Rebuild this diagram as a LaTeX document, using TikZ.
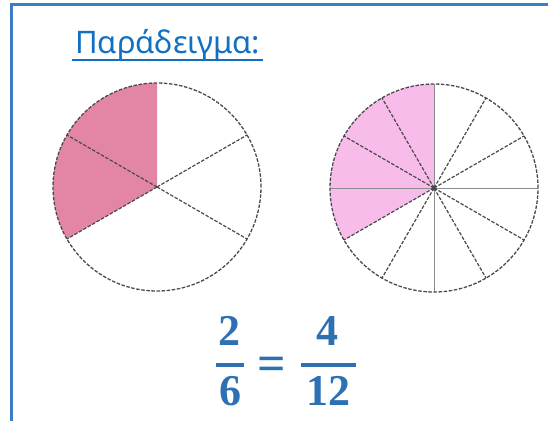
\documentclass[tikz,border=0pt]{standalone}
\usepackage{fontspec}
\setmainfont{Noto Sans}
\newfontfamily\fracfont{Liberation Serif}
\usetikzlibrary{calc}
\definecolor{framebl}{HTML}{3B7EC6}
\definecolor{titlebl}{HTML}{1270C2}
\definecolor{fracbl}{HTML}{2E71B3}
\definecolor{pinkA}{HTML}{E386A6}
\definecolor{pinkB}{HTML}{F8BCEA}
\definecolor{rimgray}{HTML}{4A4A4A}
\begin{document}
\begin{tikzpicture}[x=1pt,y=1pt,
  frame/.style={draw=framebl,line width=3pt},
  rim/.style={draw=rimgray,line width=1.3pt,dash pattern=on 3.5pt off 1.6pt},
  spoke/.style={draw=rimgray,line width=1.2pt,dash pattern=on 3.5pt off 1.6pt},
  axisline/.style={draw=black!45,line width=0.9pt},
  title/.style={font=\fontsize{31}{36}\selectfont,text=titlebl,inner sep=0pt,anchor=base west},
  digit/.style={font=\fracfont\bfseries\fontsize{44}{50}\selectfont,text=fracbl,inner sep=0pt,anchor=base},
  fracbar/.style={draw=fracbl,line width=4pt}]
\useasboundingbox (0,0) rectangle (548,-421);
\draw[frame] (11.5,-421)--(11.5,-4)--(548,-4);

\node[title] (head) at (75,-53) {Παράδειγμα:};
\draw[titlebl,line width=2.8pt] (72,-60)--(263,-60);

% left pie, six parts
\coordinate (lc) at (157,-187);
\fill[pinkA] (lc)--++(90:104) arc (90:210:104)--cycle;
\foreach \a in {30,150,210,330}
  \draw[spoke] (lc)--++(\a:104);
\draw[rim] (lc) circle (104);

% right pie, twelve parts
\coordinate (rc) at (434,-188);
\fill[pinkB] (rc)--++(90:104) arc (90:210:104)--cycle;
\foreach \a in {0,90,180,270}
  \draw[axisline] (rc)--++(\a:104);
\foreach \a in {30,60,120,150,210,240,300,330}
  \draw[spoke] (rc)--++(\a:104);
\draw[rim] (rc) circle (104);
\fill[rimgray] (rc) circle (2.5);

% 2/6 = 4/12
\node[digit] (numA) at (229,-345) {2};
\node[digit] (denA) at (230,-405) {6};
\node[digit] (numB) at (327,-345) {4};
\node[digit] (denB) at (328,-405) {12};
\node[digit,font=\fracfont\bfseries\fontsize{50}{56}\selectfont] (eqs) at (272,-380) {=};
\draw[fracbar] (216,-365)--(244,-365);
\draw[fracbar] (301,-365)--(356,-365);
\end{tikzpicture}
\end{document}
